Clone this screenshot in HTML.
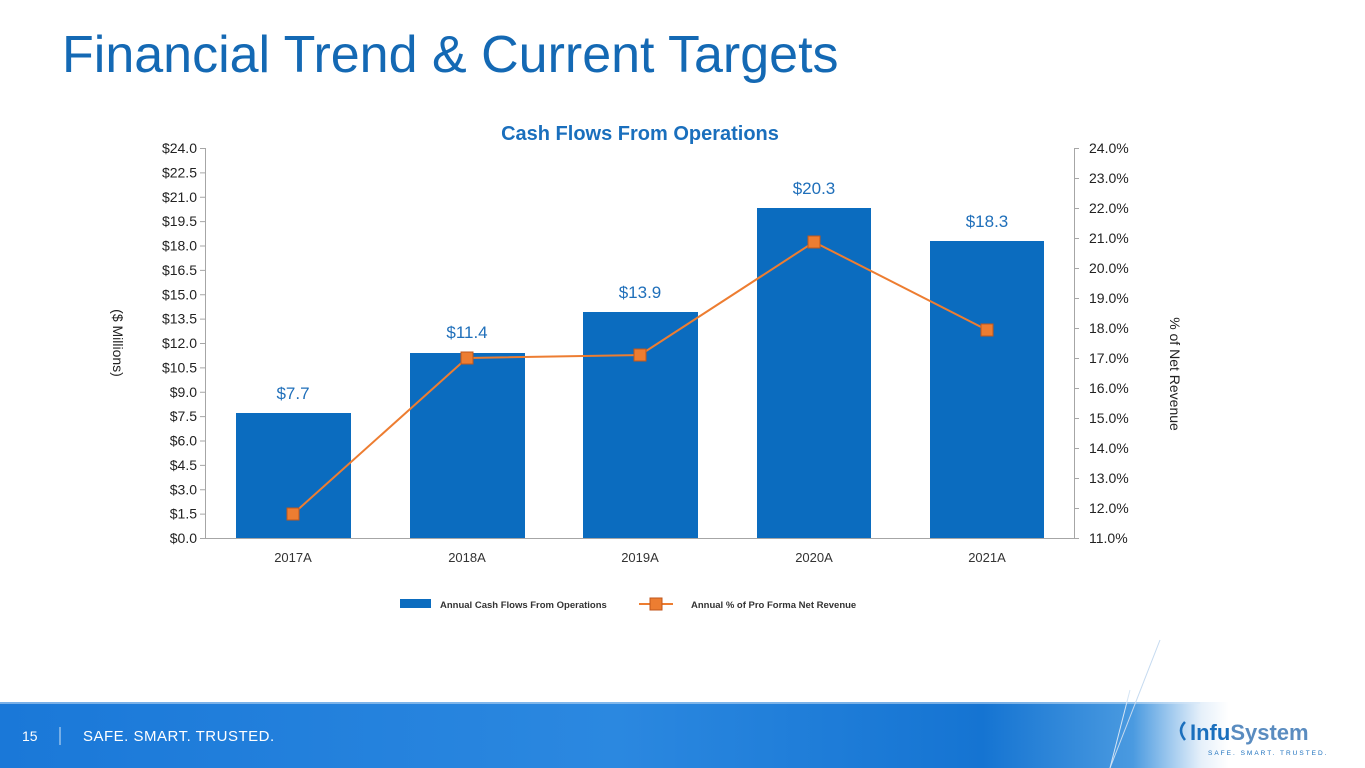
<!DOCTYPE html>
<html><head><meta charset="utf-8"><style>
html,body{margin:0;padding:0;width:1365px;height:768px;overflow:hidden;background:#fff;font-family:"Liberation Sans",sans-serif;}
</style></head><body>
<svg width="1365" height="768" xmlns="http://www.w3.org/2000/svg" style="position:absolute;left:0;top:0">
<defs>
<linearGradient id="fb" x1="0" y1="0" x2="1" y2="0">
<stop offset="0" stop-color="#1a78d8"/>
<stop offset="0.45" stop-color="#2b88e0"/>
<stop offset="0.72" stop-color="#1574d2"/>
<stop offset="0.83" stop-color="#4a9ae0"/>
<stop offset="0.88" stop-color="#e6f0fa"/>
<stop offset="0.9" stop-color="#ffffff"/>
</linearGradient>
</defs>
<text x="62" y="72" font-size="52" fill="#1469b4" font-family="Liberation Sans, sans-serif">Financial Trend &amp; Current Targets</text>
<text x="640" y="140" font-size="20" font-weight="bold" fill="#1a6fbd" text-anchor="middle">Cash Flows From Operations</text>
<g stroke="#a6a6a6" stroke-width="1" fill="none">
<line x1="205.5" y1="148" x2="205.5" y2="538"/>
<line x1="1074.5" y1="148" x2="1074.5" y2="538"/>
<line x1="205" y1="538.5" x2="1074" y2="538.5"/>
</g>
<g stroke="#a6a6a6" stroke-width="1" id="lt"></g>
<g font-size="14" fill="#222" text-anchor="end" id="ll"></g>
<g font-size="14" fill="#222" id="rl"></g>
<g fill="#0b6cbf">
<rect x="236" y="413" width="115" height="125"/>
<rect x="410" y="353" width="115" height="185"/>
<rect x="583" y="312" width="115" height="226"/>
<rect x="757" y="208" width="114" height="330"/>
<rect x="930" y="241" width="114" height="297"/>
</g>
<g font-size="17" fill="#1f6fba" text-anchor="middle">
<text x="293" y="399">$7.7</text>
<text x="467" y="338">$11.4</text>
<text x="640" y="298">$13.9</text>
<text x="814" y="194">$20.3</text>
<text x="987" y="227">$18.3</text>
</g>
<polyline points="293,514 467,358 640,355 814,242 987,330" fill="none" stroke="#ed7d31" stroke-width="2"/>
<g fill="#ed7d31" stroke="#c0561b" stroke-width="1">
<rect x="287" y="508" width="12" height="12"/>
<rect x="461" y="352" width="12" height="12"/>
<rect x="634" y="349" width="12" height="12"/>
<rect x="808" y="236" width="12" height="12"/>
<rect x="981" y="324" width="12" height="12"/>
</g>
<g font-size="13" fill="#333" text-anchor="middle">
<text x="293" y="562">2017A</text><text x="467" y="562">2018A</text><text x="640" y="562">2019A</text><text x="814" y="562">2020A</text><text x="987" y="562">2021A</text>
</g>
<text transform="translate(113,343) rotate(90)" font-size="14" fill="#222" text-anchor="middle">($ Millions)</text>
<text transform="translate(1170,374) rotate(90)" font-size="14" fill="#222" text-anchor="middle">% of Net Revenue</text>
<rect x="400" y="599" width="31" height="9" fill="#0b6cbf"/>
<text x="440" y="608" font-size="9.5" font-weight="bold" fill="#333">Annual Cash Flows From Operations</text>
<line x1="639" y1="604" x2="673" y2="604" stroke="#ed7d31" stroke-width="2"/>
<rect x="650" y="598" width="12" height="12" fill="#ed7d31" stroke="#c0561b"/>
<text x="691" y="608" font-size="9.5" font-weight="bold" fill="#333">Annual % of Pro Forma Net Revenue</text>
<rect x="0" y="702" width="1365" height="66" fill="url(#fb)"/>
<rect x="0" y="702" width="1200" height="2" fill="#d8e8f7" opacity="0.5"/>
<line x1="1160" y1="640" x2="1110" y2="768" stroke="#c5daf0" stroke-width="1"/>
<line x1="1130" y1="690" x2="1110" y2="768" stroke="#d5e5f5" stroke-width="1"/>
<text x="22" y="741" font-size="14" fill="#fff">15</text>
<line x1="60" y1="727" x2="60" y2="745" stroke="#cfe2f5" stroke-width="1"/>
<text x="83" y="741" font-size="15" fill="#fff" letter-spacing="0.5">SAFE. SMART. TRUSTED.</text>
<path d="M1185 722 q-8 8 0 18" stroke="#1a6fbd" stroke-width="2.5" fill="none"/>
<text x="1190" y="740" font-size="22" font-weight="bold" fill="#1a6fbd">Infu<tspan fill="#5a8cc0">System</tspan></text>
<text x="1208" y="755" font-size="6.5" fill="#1a6fbd" letter-spacing="2">SAFE. SMART. TRUSTED.</text>
</svg>
<script>
var ns="http://www.w3.org/2000/svg";
function el(p,t,a,txt){var e=document.createElementNS(ns,t);for(var k in a)e.setAttribute(k,a[k]);if(txt)e.textContent=txt;document.getElementById(p).appendChild(e);}
for(var i=0;i<=16;i++){var y=538-i*24.375;el("lt","line",{x1:200,x2:205,y1:y+0.5,y2:y+0.5});el("ll","text",{x:197,y:y+5},"$"+(i*1.5).toFixed(1));}
for(var j=0;j<=13;j++){var y2=538-j*30;el("lt","line",{x1:1074,x2:1079,y1:y2+0.5,y2:y2+0.5});el("rl","text",{x:1089,y:y2+5},(11+j).toFixed(1)+"%");}
</script>
</body></html>
